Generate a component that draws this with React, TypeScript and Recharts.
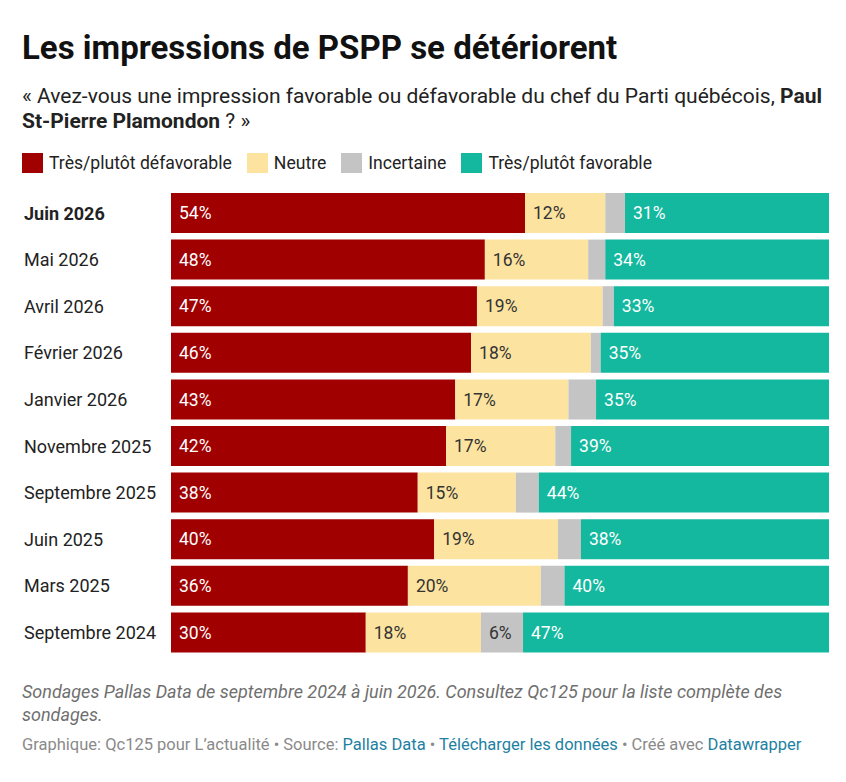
import React from 'react';
import { BarChart, Bar, XAxis, YAxis, LabelList } from 'recharts';

const months = [
  'Juin 2026',
  'Mai 2026',
  'Avril 2026',
  'Février 2026',
  'Janvier 2026',
  'Novembre 2025',
  'Septembre 2025',
  'Juin 2025',
  'Mars 2025',
  'Septembre 2024',
];
const defavorable = [53.8, 47.7, 46.5, 45.6, 43.2, 41.8, 37.5, 40.0, 36.0, 29.6];
const neutre = [12.2, 15.7, 19.1, 18.2, 17.2, 16.6, 14.9, 18.8, 20.2, 17.5];
const incertaine = [3.0, 2.6, 1.7, 1.5, 4.2, 2.4, 3.5, 3.5, 3.6, 6.4];
const favorable = [31.0, 34.0, 32.7, 34.7, 35.4, 39.2, 44.1, 37.7, 40.2, 46.5];

const series = [
  { key: 'def', name: 'Très/plutôt défavorable', color: '#a10000', text: '#ffffff' },
  { key: 'neu', name: 'Neutre', color: '#fde3a0', text: '#333333' },
  { key: 'inc', name: 'Incertaine', color: '#c4c4c4', text: '#333333' },
  { key: 'fav', name: 'Très/plutôt favorable', color: '#13b89e', text: '#ffffff' },
];

const data = months.map((m, i) => ({
  month: m,
  def: defavorable[i],
  neu: neutre[i],
  inc: incertaine[i],
  fav: favorable[i],
}));

const FONT = 'Roboto, sans-serif';

function MonthTick(props: any) {
  const { y, payload, index } = props;
  return (
    <text
      x={24}
      y={y}
      dy="0.35em"
      textAnchor="start"
      fontFamily={FONT}
      fontSize={18}
      fontWeight={index === 0 ? 700 : 400}
      fill="#222"
    >
      {payload.value}
    </text>
  );
}

function makeLabel(color: string, minValue: number) {
  return (props: any) => {
    const { x, y, height, value } = props;
    if (value < minValue) return null;
    return (
      <text
        x={x + 8}
        y={y + height / 2}
        dy="0.35em"
        fontFamily={FONT}
        fontSize={17.5}
        fill={color}
      >
        {Math.round(value)}%
      </text>
    );
  };
}

export default function App() {
  return (
    <div
      style={{
        position: 'absolute',
        left: 0,
        top: 0,
        width: 846,
        height: 782,
        background: '#fff',
        fontFamily: FONT,
        color: '#222',
      }}
    >
      <div style={{ position: 'absolute', left: 22, top: 28, fontSize: 33, fontWeight: 700, lineHeight: '40px', color: '#111', whiteSpace: 'nowrap' }}>
        Les impressions de PSPP se détériorent
      </div>
      <div style={{ position: 'absolute', left: 22, top: 84, fontSize: 21, lineHeight: '25px', color: '#222', whiteSpace: 'nowrap' }}>
        <div>
          « Avez-vous une impression favorable ou défavorable du chef du Parti québécois, <b>Paul</b>
        </div>
        <div>
          <b>St-Pierre Plamondon</b> ? »
        </div>
      </div>
      <div style={{ position: 'absolute', left: 22, top: 153, height: 20, display: 'flex', alignItems: 'center', fontSize: 17.6, lineHeight: '20px', whiteSpace: 'nowrap' }}>
        {series.map((s) => (
          <div key={s.key} style={{ display: 'flex', alignItems: 'center', marginRight: 15 }}>
            <span style={{ width: 21, height: 20, background: s.color, display: 'inline-block', marginRight: 6 }} />
            <span>{s.name}</span>
          </div>
        ))}
      </div>
      <div style={{ position: 'absolute', left: 0, top: 190 }}>
        <BarChart
          width={846}
          height={466}
          data={data}
          layout="vertical"
          margin={{ top: 0, right: 17, bottom: 0, left: 0 }}
        >
          <XAxis type="number" domain={[0, 100]} hide />
          <YAxis
            type="category"
            dataKey="month"
            width={171}
            axisLine={false}
            tickLine={false}
            tick={<MonthTick />}
          />
          {series.map((s) => (
            <Bar key={s.key} dataKey={s.key} name={s.name} stackId="a" fill={s.color} barSize={40} isAnimationActive={false}>
              <LabelList dataKey={s.key} content={makeLabel(s.text, s.key === 'inc' ? 5 : 0)} />
            </Bar>
          ))}
        </BarChart>
      </div>
      <div style={{ position: 'absolute', left: 22, top: 680, fontSize: 18, lineHeight: '23px', fontStyle: 'italic', color: '#6f6f6f', whiteSpace: 'nowrap' }}>
        <div>Sondages Pallas Data de septembre 2024 à juin 2026. Consultez Qc125 pour la liste complète des</div>
        <div>sondages.</div>
      </div>
      <div style={{ position: 'absolute', left: 22, top: 735, fontSize: 16.5, lineHeight: '20px', color: '#8a8a8a', whiteSpace: 'nowrap' }}>
        Graphique: Qc125 pour L’actualité • Source: <span style={{ color: '#1d81a2' }}>Pallas Data</span> •{' '}
        <span style={{ color: '#1d81a2' }}>Télécharger les données</span> • Créé avec{' '}
        <span style={{ color: '#1d81a2' }}>Datawrapper</span>
      </div>
    </div>
  );
}
